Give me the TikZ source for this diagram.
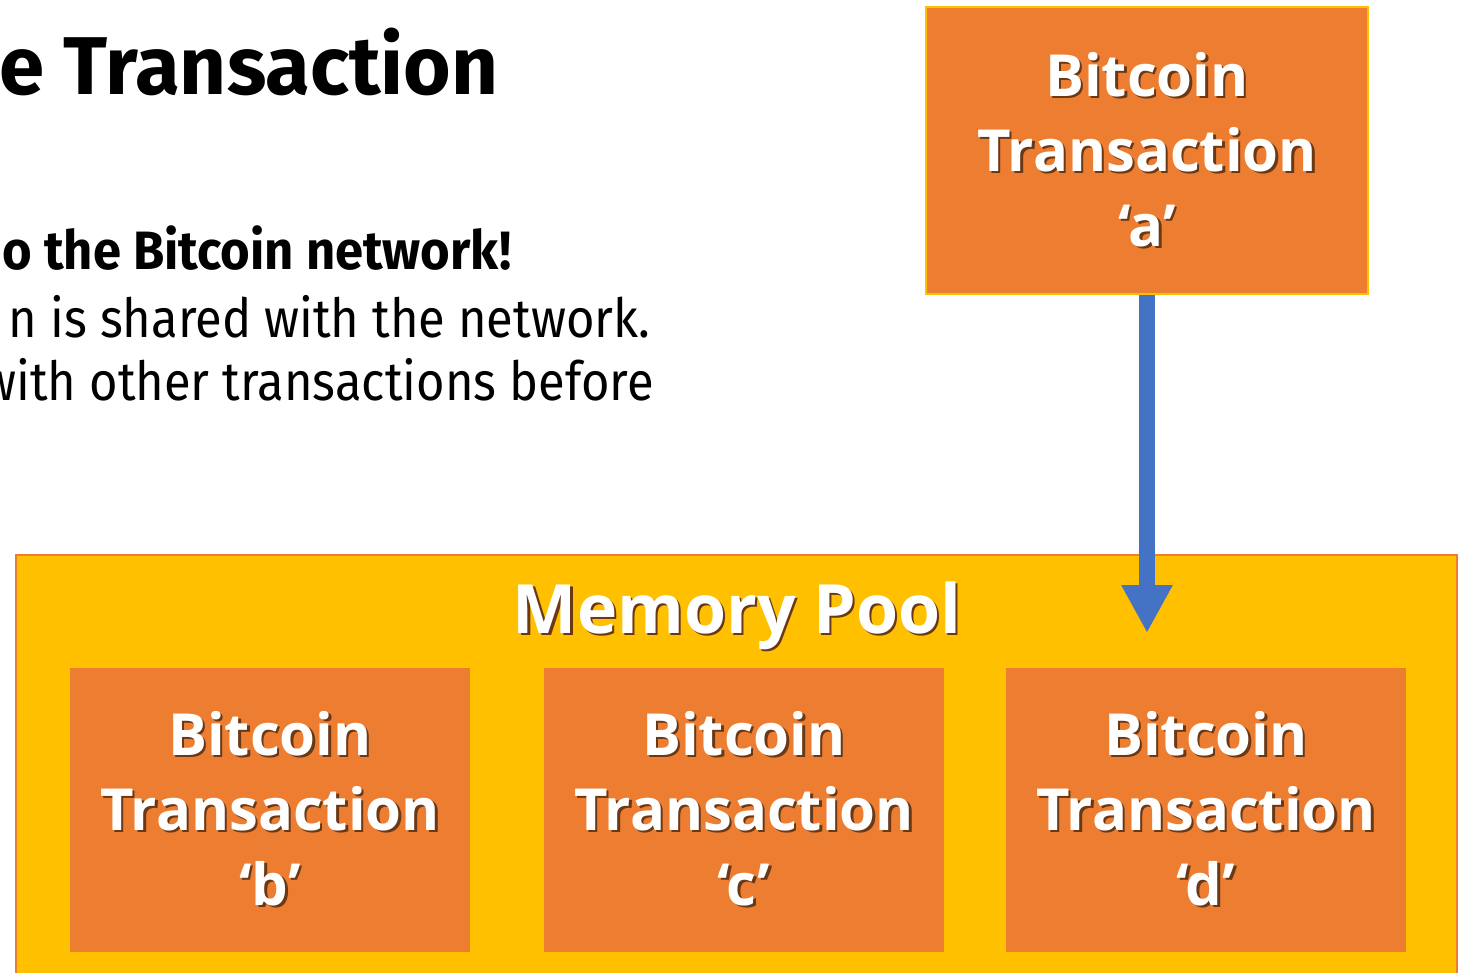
\documentclass[tikz,border=0pt]{standalone}
\usepackage{fontspec}
\setmainfont{Fira Sans}
\newfontfamily\titlefont[FakeStretch=0.995]{Fira Sans}
\newfontfamily\leadfont[FakeStretch=0.94]{Fira Sans}
\newfontfamily\bodyfont[FakeStretch=0.905]{Fira Sans}
\newfontfamily\boxfont{Open Sans}
\usetikzlibrary{positioning}
\usetikzlibrary{arrows.meta}
\definecolor{txorange}{HTML}{ED7D31}
\definecolor{poolyellow}{HTML}{FFC000}
\definecolor{arrowblue}{HTML}{4472C4}
\colorlet{txshadow}{txorange!45!black}
\newcommand{\shtxt}[1]{\rlap{\kern1.2pt\raisebox{-1.2pt}{\color{txshadow}#1}}#1}
\tikzset{x=0.5pt, y=-0.5pt, % one unit = one pixel of the slide
  every node/.style={align=center, inner sep=0pt},
         txbox/.style={ % a single transaction
           rectangle,
           fill=txorange,
           text=white,
           minimum width=200pt,
           minimum height=142pt,
           font=\boxfont\bfseries\fontsize{29}{37.5}\selectfont},
         poolbox/.style={
           rectangle,
           draw=txorange,
           line width=1pt,
           fill=poolyellow,
           minimum width=720.5pt,
           minimum height=220pt},
         bodytext/.style={anchor=base east, font=\bodyfont\fontsize{27}{32}\selectfont},
         txarrow/.style={
           draw=arrowblue,
           line width=8pt,
           -{Triangle[width=24pt,length=24pt]}}}

\begin{document}
\begin{tikzpicture}
  \useasboundingbox (0,0) rectangle (1461,973);
  \clip (0,0) rectangle (1461,973);

  \node [anchor=base east, font=\titlefont\bfseries\fontsize{41}{48}\selectfont] (title) at (499,95) {e Transaction};
  \node [bodytext, font=\leadfont\bfseries\fontsize{27}{32}\selectfont] (lineone) at (512,270) {o the Bitcoin network!};
  \node [bodytext] (linetwo) at (651,337) {n is shared with the network.};
  \node [bodytext] (linethree) at (654,400) {with other transactions before};

  \node [poolbox] (pool) at (736.5,775) {};
  \node [anchor=base, text=white, font=\boxfont\bfseries\fontsize{34}{40}\selectfont] (pooltitle) at (737,633) {\shtxt{Memory Pool}};

  \node [txbox, minimum width=221pt, minimum height=143.5pt, draw=poolyellow, line width=1pt] (txa) at (1147,150.5)
    {\shtxt{Bitcoin}\\\shtxt{Transaction}\\\shtxt{‘a’}};
  \node [txbox] (txb) at (270,810) {\shtxt{Bitcoin}\\\shtxt{Transaction}\\\shtxt{‘b’}};
  \node [txbox] (txc) at (744,810) {\shtxt{Bitcoin}\\\shtxt{Transaction}\\\shtxt{‘c’}};
  \node [txbox] (txd) at (1206,810) {\shtxt{Bitcoin}\\\shtxt{Transaction}\\\shtxt{‘d’}};

  \coordinate (drop) at (1147,633);
  \draw [txarrow] (txa.south) -- (drop);

\end{tikzpicture}
\end{document}
